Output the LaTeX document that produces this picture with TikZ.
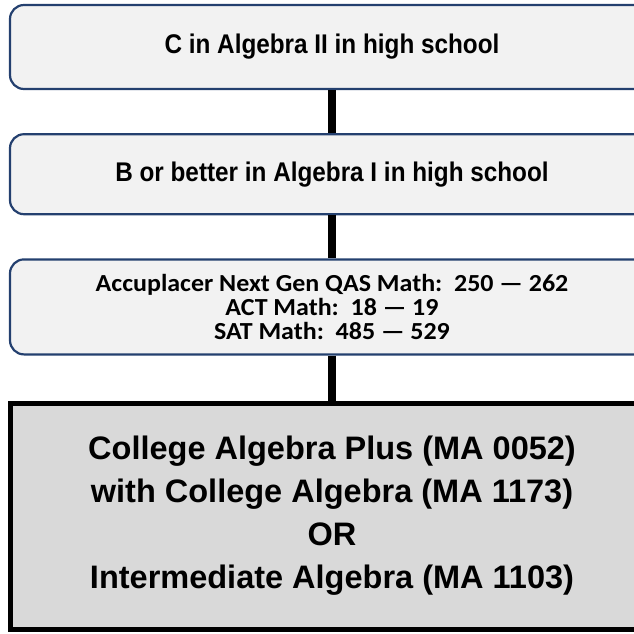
\documentclass[tikz,border=0pt]{standalone}
\usepackage{fontspec}
\usepackage{xcolor}
\usetikzlibrary{positioning}

\newfontfamily\reqfont[FakeStretch=0.9]{Liberation Sans}
\newfontfamily\scorefont[FakeStretch=1.06]{Carlito}
\newfontfamily\coursefont{Liberation Sans}

\definecolor{reqblue}{HTML}{24406F}
\definecolor{reqfill}{HTML}{F2F2F2}
\definecolor{coursefill}{HTML}{D9D9D9}

\begin{document}
\begin{tikzpicture}[
node distance=43pt,
req/.style={
draw=reqblue,
line width=2.2pt,
fill=reqfill,
rounded corners=14pt,
minimum width=644pt,
align=center,
font=\reqfont\bfseries\fontsize{27pt}{30pt}\selectfont
},
course/.style={
draw=black,
line width=5pt,
fill=coursefill,
minimum width=644pt,
minimum height=226pt,
align=center,
font=\coursefont\bfseries\fontsize{32.5pt}{43pt}\selectfont
},
link/.style={line width=8pt}
]
\useasboundingbox (0,0) rectangle (634pt,-633pt);

\node[req,minimum height=84pt] (alg2) at (332pt,-47pt) {C in Algebra II in high school};
\node[req,minimum height=80pt,below=of alg2] (alg1) {B or better in Algebra I in high school};
\node[req,minimum height=95pt,below=of alg1,
font=\scorefont\bfseries\fontsize{24.5pt}{24pt}\selectfont] (scores)
{Accuplacer Next Gen QAS Math:\ \ 250 — 262\\
ACT Math:\ \ 18 — 19\\
SAT Math:\ \ 485 — 529};
\node[course,below=45pt of scores] (course)
{College Algebra Plus (MA 0052)\\
with College Algebra (MA 1173)\\
OR\\
Intermediate Algebra (MA 1103)};

\draw[link] (alg2) -- (alg1);
\draw[link] (alg1) -- (scores);
\draw[link] (scores) -- (course);

\end{tikzpicture}
\end{document}
